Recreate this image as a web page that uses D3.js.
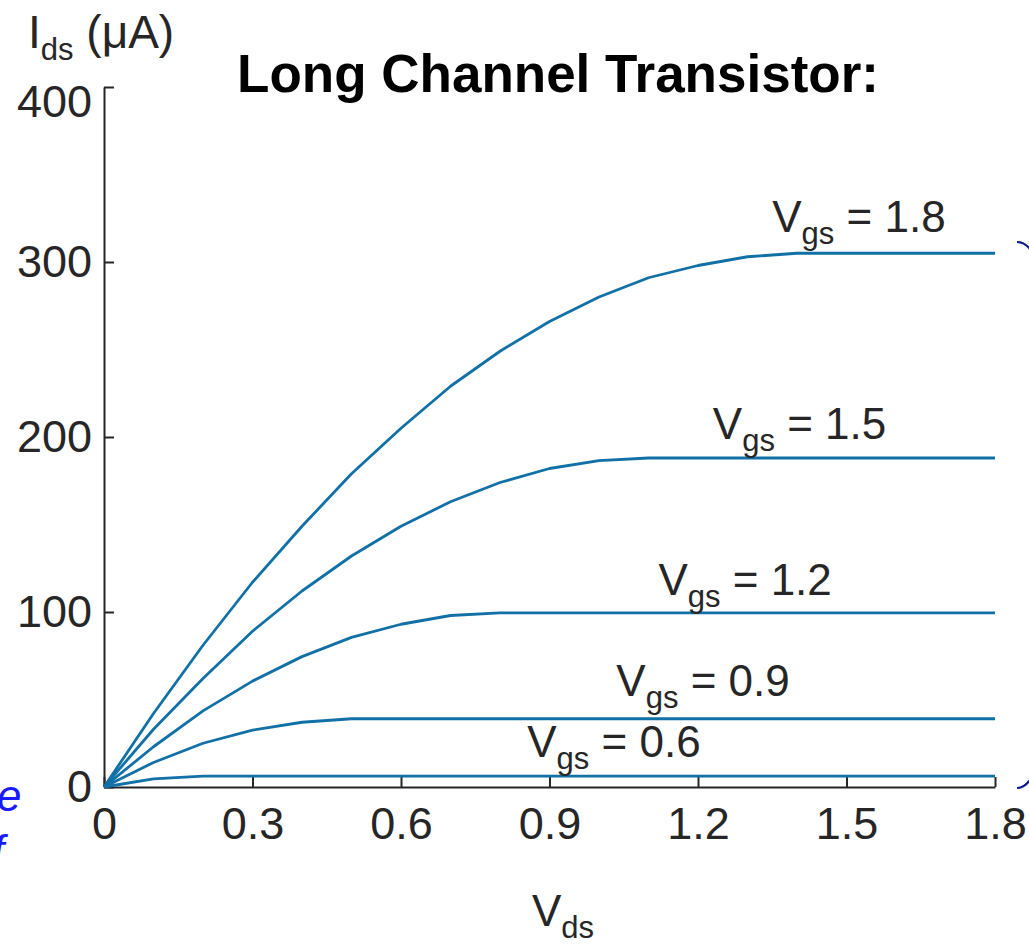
<!DOCTYPE html>
<html>
<head>
<meta charset="utf-8">
<script src="https://cdn.jsdelivr.net/npm/d3@7"></script>
<style>
  html, body { margin: 0; padding: 0; background: #fff; }
  svg { display: block; font-family: "Liberation Sans", Arial, sans-serif; }
</style>
</head>
<body>
<svg id="chart"></svg>
<script>
// Vds sweep (V) and drain current (uA) for each gate voltage
const vds = [0, 0.1, 0.2, 0.3, 0.4, 0.5, 0.6, 0.7, 0.8, 0.9, 1.0, 1.1, 1.2, 1.3, 1.4, 1.5, 1.6, 1.7, 1.8];
const vgsLevels = ['1.8', '1.5', '1.2', '0.9', '0.6'];
const ids18 = [0, 42, 81, 117, 149, 179, 205, 229, 249, 266, 280, 291, 298, 303, 305, 305, 305, 305, 305];
const ids15 = [0, 33, 62, 89, 112, 132, 149, 163, 174, 182, 186.5, 188, 188, 188, 188, 188, 188, 188, 188];
const ids12 = [0, 23, 43.5, 60.5, 74.5, 85.5, 93, 98, 99.5, 99.5, 99.5, 99.5, 99.5, 99.5, 99.5, 99.5, 99.5, 99.5, 99.5];
const ids09 = [0, 14, 25, 32.5, 37, 39, 39, 39, 39, 39, 39, 39, 39, 39, 39, 39, 39, 39, 39];
const ids06 = [0, 4.7, 6.2, 6.2, 6.2, 6.2, 6.2, 6.2, 6.2, 6.2, 6.2, 6.2, 6.2, 6.2, 6.2, 6.2, 6.2, 6.2, 6.2];
const seriesIds = [ids18, ids15, ids12, ids09, ids06];
// where each "Vgs = ..." label starts (Vds, Ids)
const labelVds = [1.35, 1.23, 1.12, 1.035, 0.855];
const labelIds = [317, 199, 110, 52, 17];

const xTicks = [0, 0.3, 0.6, 0.9, 1.2, 1.5, 1.8];
const yTicks = [0, 100, 200, 300, 400];

const width = 1029, height = 944;
const axisColor = '#262626';
const lineColor = '#1170a6';

const svg = d3.select('#chart')
  .attr('width', width)
  .attr('height', height)
  .attr('viewBox', `0 0 ${width} ${height}`);

const x = d3.scaleLinear().domain([0, 1.8]).range([104, 995]);
const y = d3.scaleLinear().domain([0, 400]).range([787, 87]);

// Title
svg.append('text')
  .attr('x', 558).attr('y', 92)
  .attr('text-anchor', 'middle')
  .attr('font-size', 53).attr('font-weight', 'bold')
  .attr('fill', '#000')
  .text('Long Channel Transistor:');

// Axes
const xAxis = svg.append('g')
  .attr('transform', `translate(0,${y(0)})`)
  .call(d3.axisBottom(x).tickValues(xTicks).tickFormat(d3.format('')).tickSizeInner(-10).tickSizeOuter(0).tickPadding(20));

const yAxis = svg.append('g')
  .attr('transform', `translate(${x(0)},0)`)
  .call(d3.axisLeft(y).tickValues(yTicks).tickSizeInner(-10).tickSizeOuter(0).tickPadding(12));

[xAxis, yAxis].forEach(ax => {
  ax.select('.domain').attr('stroke', axisColor).attr('stroke-width', 2);
  ax.selectAll('.tick line').attr('stroke', axisColor).attr('stroke-width', 2);
  ax.selectAll('.tick text')
    .attr('fill', axisColor)
    .attr('font-size', 45)
    .attr('font-family', '"Liberation Sans", Arial, sans-serif');
});
// top label sits a little below its tick in the original
yAxis.selectAll('.tick text').filter(d => d === 400).attr('dy', '0.66em');

// Curves
const line = d3.line()
  .x((_, i) => x(vds[i]))
  .y(d => y(d));

svg.append('g')
  .selectAll('path')
  .data(seriesIds)
  .join('path')
  .attr('fill', 'none')
  .attr('stroke', lineColor)
  .attr('stroke-width', 2.8)
  .attr('stroke-linejoin', 'round')
  .attr('d', line);

// Curve labels
const labels = svg.append('g')
  .attr('fill', axisColor)
  .attr('font-size', 44);

vgsLevels.forEach((v, i) => {
  const t = labels.append('text')
    .attr('x', x(labelVds[i]))
    .attr('y', y(labelIds[i]));
  t.append('tspan').text('V');
  t.append('tspan').attr('font-size', 31).attr('dy', 12).text('gs');
  t.append('tspan').attr('dy', -12).text(` = ${v}`);
});

// Y label
const yl = svg.append('text')
  .attr('x', 28).attr('y', 48)
  .attr('fill', axisColor)
  .attr('font-size', 46);
yl.append('tspan').text('I');
yl.append('tspan').attr('font-size', 31).attr('dy', 12).text('ds');
yl.append('tspan').attr('dy', -12).text(' (\u03bcA)');

// X label
const xl = svg.append('text')
  .attr('x', 532).attr('y', 926)
  .attr('fill', axisColor)
  .attr('font-size', 44);
xl.append('tspan').text('V');
xl.append('tspan').attr('font-size', 31).attr('dy', 12).text('ds');

// slide remnants around the chart
svg.append('text')
  .attr('x', -3).attr('y', 811)
  .attr('fill', '#1a1aff')
  .attr('font-size', 44).attr('font-style', 'italic')
  .text('e');
svg.append('text')
  .attr('x', -8).attr('y', 866)
  .attr('fill', '#1a1aff')
  .attr('font-size', 44).attr('font-style', 'italic')
  .text('f');

const brace = svg.append('g')
  .attr('fill', 'none')
  .attr('stroke', '#0a1a8a')
  .attr('stroke-width', 2.2);
brace.append('path').attr('d', 'M1017,242 Q1024,242 1030,249');
brace.append('path').attr('d', 'M1017,788 Q1024,788 1030,780');
</script>
</body>
</html>
